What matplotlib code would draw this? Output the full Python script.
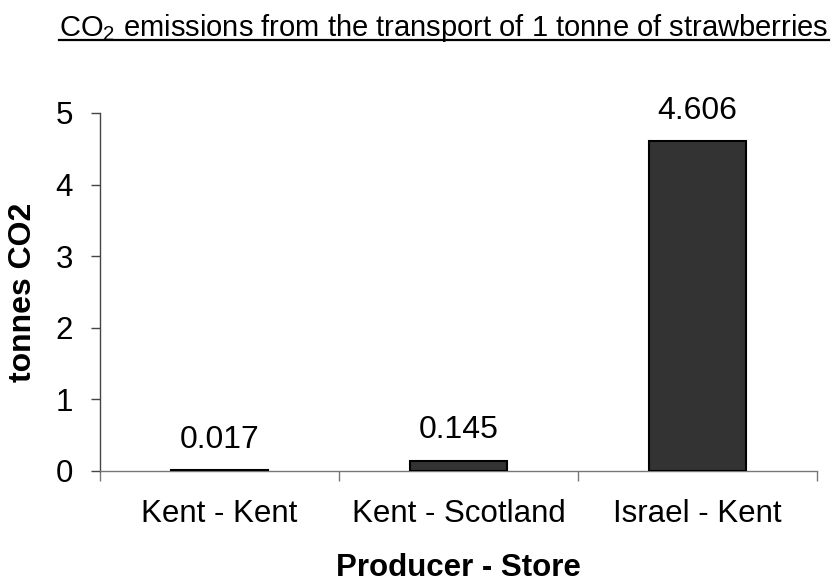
import matplotlib
matplotlib.use('Agg')
import matplotlib.pyplot as plt
from matplotlib.lines import Line2D

# data
routes = ['Kent - Kent', 'Kent - Scotland', 'Israel - Kent']
emissions = [0.017, 0.145, 4.606]
value_labels = ['0.017', '0.145', '4.606']
y_ticks = [0, 1, 2, 3, 4, 5]

plt.rcParams['font.family'] = ['Liberation Sans', 'DejaVu Sans']
plt.rcParams['mathtext.fontset'] = 'custom'
plt.rcParams['mathtext.rm'] = 'Liberation Sans'

fig = plt.figure(figsize=(8.32, 5.85), dpi=100)
ax = fig.add_axes([100 / 832, 1 - 471 / 585, 717 / 832, 358 / 585])

x = list(range(len(routes)))
ax.bar(x, emissions, width=0.41, color='#333333', edgecolor='black', linewidth=1.5, zorder=3)

for xi, v, lab in zip(x, emissions, value_labels):
    ax.annotate(lab, (xi, v), xytext=(0, 16), textcoords='offset points',
                ha='center', va='baseline', fontsize=23)

ax.set_xlim(-0.5, len(routes) - 0.5)
ax.set_ylim(0, 5)
ax.set_yticks(y_ticks)
ax.set_xticks(x)
ax.set_xticklabels(routes)
ax.set_xticks([i - 0.5 for i in range(len(routes) + 1)], minor=True)

for s in ['top', 'right']:
    ax.spines[s].set_visible(False)
ax.spines['left'].set_color('#444444')
ax.spines['bottom'].set_color('#777777')
ax.spines['left'].set_linewidth(1)
ax.spines['bottom'].set_linewidth(1)

ax.tick_params(axis='y', direction='out', length=6.5, width=1, color='#444444', labelsize=22.5, pad=13)
ax.tick_params(axis='x', which='major', length=0, labelsize=22.5, pad=20)
ax.tick_params(axis='x', which='minor', direction='out', length=7, width=1, color='#777777')

ax.set_ylabel('tonnes CO2', fontsize=23, fontweight='bold')
ax.yaxis.set_label_coords(-77 / 717, 0.5)
ax.yaxis.label.set_va('center')
ax.set_xlabel('Producer - Store', fontsize=22.5, fontweight='bold')
ax.xaxis.set_label_coords(0.5, -(576 - 471) / 358)
ax.xaxis.label.set_va('baseline')

title = fig.text(444 / 832, 1 - 36 / 585, 'CO$_2$ emissions from the transport of 1 tonne of strawberries',
                 ha='center', va='baseline', fontsize=21)

# underline the title
fig.canvas.draw()
bb = title.get_window_extent().transformed(fig.transFigure.inverted())
uy = 1 - 40 / 585
fig.add_artist(Line2D([bb.x0, bb.x1], [uy, uy], transform=fig.transFigure, color='black', linewidth=1.6))

fig.savefig('out.png', dpi=100)
